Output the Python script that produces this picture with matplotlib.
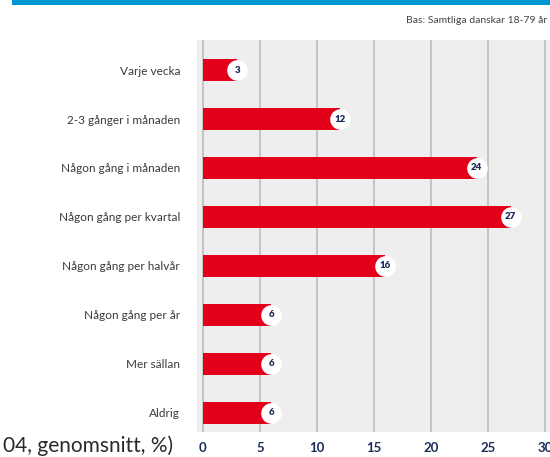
import matplotlib
matplotlib.use('Agg')
from matplotlib import pyplot as plt

plt.rcParams['font.family'] = ['Lato', 'DejaVu Sans']

categories = ['Varje vecka', '2-3 gånger i månaden', 'Någon gång i månaden',
              'Någon gång per kvartal', 'Någon gång per halvår', 'Någon gång per år',
              'Mer sällan', 'Aldrig']
values = [3, 12, 24, 27, 16, 6, 6, 6]
ticks = [0, 5, 10, 15, 20, 25, 30]

RED = '#E2001A'
NAVY = '#1C2B5A'

fig = plt.figure(figsize=(5.5, 4.57), dpi=100)
fig.patch.set_facecolor('white')

# blue band at the top
fig.patches.append(plt.Rectangle((0.022, 0.989), 0.978, 0.011, transform=fig.transFigure,
                                 facecolor='#0096D1', edgecolor='none'))
fig.text(0.995, 0.955, 'Bas: Samtliga danskar 18-79 år', ha='right', va='center',
         fontsize=7.5, color='#444444')
fig.text(0.315, 0.025, '04, genomsnitt, %)', ha='right', va='center',
         fontsize=15, color='#2A2A2A')

ax = fig.add_axes([0.358, 0.055, 0.642, 0.857])
ax.set_facecolor('#EEEEEE')

ypos = list(range(len(categories)))
ax.barh(ypos, values, height=0.45, color=RED, zorder=2)
ax.scatter(values, ypos, s=220, color='white', zorder=3, linewidths=0)
for y, v in zip(ypos, values):
    ax.text(v, y, str(v), ha='center', va='center', fontsize=7, fontweight='heavy',
            color=NAVY, zorder=4)

ax.set_xlim(-0.53, 30.44)
ax.set_ylim(7.39, -0.61)
ax.set_xticks(ticks)
ax.set_xticklabels([str(t) for t in ticks], fontsize=9.5, fontweight='bold', color=NAVY)
ax.set_yticks(ypos)
ax.set_yticklabels(categories, fontsize=8.5, color='#3A3A3A')
ax.tick_params(axis='both', length=0)
ax.tick_params(axis='y', pad=12)
ax.tick_params(axis='x', pad=7)
ax.grid(axis='x', color='#BDBDBD', linewidth=1.2, zorder=1)
ax.set_axisbelow(True)
for s in ax.spines.values():
    s.set_visible(False)

fig.savefig('out.png', dpi=100)
